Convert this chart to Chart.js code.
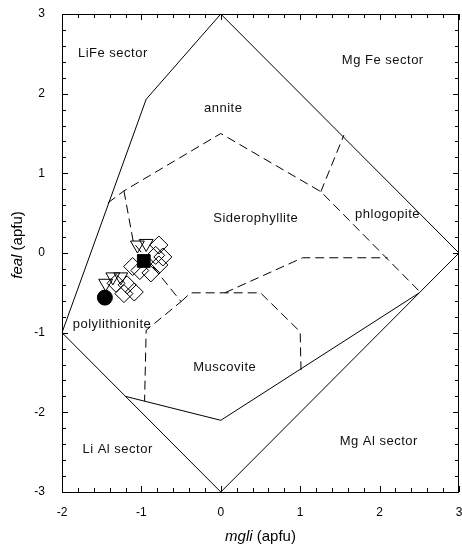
<!DOCTYPE html>
<html>
<head>
<meta charset="utf-8">
<script src="https://cdn.jsdelivr.net/npm/chart.js@4/dist/chart.umd.min.js"></script>
<style>
  html, body { margin: 0; padding: 0; background: #fff; }
  canvas { display: block; }
</style>
</head>
<body>
<canvas id="chart" width="462" height="552"></canvas>
<script>
// mgli / feal ranges
const xRange = [-2, 3];
const yRange = [-3, 3];

// solid field boundaries [mgli, feal]
const outerBoundary = [[0, 3], [-0.94, 1.93], [-2, -1], [0, -3], [3, 0], [0, 3]];
const lowerSolid = [[-1.2, -1.8], [0, -2.1], [2.5, -0.5]];

// dashed field boundaries
const upperDashed = [[-1.42, 0.63], [-1.22, 0.78], [0, 1.5], [1.26, 0.77], [2.52, -0.5]];
const annitePhlogopite = [[1.26, 0.77], [1.55, 1.48]];
const leftDashed = [[-1.22, 0.78], [-1.1, 0.13], [-0.5, -0.61], [-0.94, -0.97], [-0.96, -1.86]];
const muscoviteTop = [[-0.5, -0.61], [-0.38, -0.5], [0.5, -0.5], [1.0, -0.99], [1.01, -1.47]];
const sideroLower = [[0.05, -0.5], [1.03, -0.06], [2.1, -0.06]];

// samples
const diamonds = [[-0.78, 0.10], [-0.73, -0.05], [-0.82, -0.03], [-0.78, -0.15], [-0.88, -0.25],
                  [-1.11, -0.17], [-1.02, -0.22], [-1.18, -0.40], [-1.09, -0.49], [-1.22, -0.51], [-1.32, -0.38]];
const triangles = [[-1.05, 0.10], [-0.94, 0.12], [-1.36, -0.30], [-1.26, -0.30], [-1.45, -0.38]];
const squares = [[-0.97, -0.10]];
const circles = [[-1.46, -0.56]];

// field names and where they sit
const fieldNames = ['LiFe sector', 'Mg Fe sector', 'annite', 'Siderophyllite', 'phlogopite',
                    'polylithionite', 'Muscovite', 'Li Al sector', 'Mg Al sector'];
const fieldX = [-1.36, 2.04, 0.03, 0.44, 2.10, -1.37, 0.05, -1.30, 1.99];
const fieldY = [2.51, 2.42, 1.82, 0.44, 0.49, -0.90, -1.44, -2.46, -2.37];

const FONT = "'Liberation Sans', Arial, sans-serif";
const toPts = (arr) => arr.map(([x, y]) => ({ x, y }));

function lineSet(points, dashed) {
    return {
        data: toPts(points),
        showLine: true,
        borderColor: '#000',
        borderWidth: 1,
        borderDash: dashed ? [9, 5] : [],
        pointRadius: 0,
        tension: 0,
        order: 5
    };
}

function markerSet(points, style, radius, filled, rotation, order) {
    return {
        data: toPts(points),
        showLine: false,
        pointStyle: style,
        pointRadius: radius,
        pointRotation: rotation || 0,
        pointBorderColor: '#000',
        pointBorderWidth: 1,
        pointBackgroundColor: filled ? '#000' : 'rgba(255,255,255,0)',
        order: order
    };
}

const frameTicks = {
    id: 'frameTicks',
    afterDatasetsDraw(chart) {
        const { ctx, chartArea: a, scales: { x, y } } = chart;
        ctx.save();
        ctx.strokeStyle = '#000';
        ctx.lineWidth = 1;
        ctx.strokeRect(Math.round(a.left) + 0.5, Math.round(a.top) + 0.5,
                       Math.round(a.right - a.left) - 1, Math.round(a.bottom - a.top));
        ctx.beginPath();
        const nx = (x.max - x.min) * 5;
        for (let i = 0; i <= nx; i++) {
            const px = Math.round(x.getPixelForValue(x.min + i / 5)) + 0.5;
            const len = i % 5 === 0 ? 6 : 4;
            ctx.moveTo(px, a.bottom); ctx.lineTo(px, a.bottom - len);
            ctx.moveTo(px, a.top); ctx.lineTo(px, a.top + len);
        }
        const ny = (y.max - y.min) * 5;
        for (let i = 0; i <= ny; i++) {
            const py = Math.round(y.getPixelForValue(y.min + i / 5)) + 0.5;
            const len = i % 5 === 0 ? 6 : 4;
            ctx.moveTo(a.left, py); ctx.lineTo(a.left + len, py);
            ctx.moveTo(a.right, py); ctx.lineTo(a.right - len, py);
        }
        ctx.stroke();

        // field labels
        ctx.fillStyle = '#111';
        ctx.font = '13px ' + FONT;
        ctx.letterSpacing = '0.5px';
        ctx.textAlign = 'center';
        ctx.textBaseline = 'middle';
        fieldNames.forEach((name, i) => {
            ctx.fillText(name, x.getPixelForValue(fieldX[i]), y.getPixelForValue(fieldY[i]));
        });
        ctx.restore();
    }
};

// axis titles with italic variable names
function mixedTitle(ctx, italicPart, rest, cx, cy) {
    ctx.font = 'italic 15px ' + FONT;
    const w1 = ctx.measureText(italicPart).width;
    ctx.font = '15px ' + FONT;
    const w2 = ctx.measureText(rest).width;
    let start = cx - (w1 + w2) / 2;
    ctx.textAlign = 'left';
    ctx.textBaseline = 'middle';
    ctx.font = 'italic 15px ' + FONT;
    ctx.fillText(italicPart, start, cy);
    ctx.font = '15px ' + FONT;
    ctx.fillText(rest, start + w1, cy);
}

const axisTitles = {
    id: 'axisTitles',
    afterDraw(chart) {
        const { ctx, chartArea: a } = chart;
        ctx.save();
        ctx.fillStyle = '#000';
        mixedTitle(ctx, 'mgli', ' (apfu)', (a.left + a.right) / 2, 537);
        ctx.translate(18, 245);
        ctx.rotate(-Math.PI / 2);
        mixedTitle(ctx, 'feal', ' (apfu)', 0, 0);
        ctx.restore();
    }
};

new Chart(document.getElementById('chart'), {
    type: 'scatter',
    data: {
        datasets: [
            lineSet(outerBoundary, false),
            lineSet(lowerSolid, false),
            lineSet(upperDashed, true),
            lineSet(annitePhlogopite, true),
            lineSet(leftDashed, true),
            lineSet(muscoviteTop, true),
            lineSet(sideroLower, true),
            markerSet(diamonds, 'rectRot', 9, false, 0, 3),
            markerSet(triangles, 'triangle', 8, false, 180, 2),
            markerSet(squares, 'rect', 9, true, 0, 1),
            markerSet(circles, 'circle', 7.5, true, 0, 0)
        ]
    },
    options: {
        responsive: false,
        animation: false,
        devicePixelRatio: 1,
        layout: { autoPadding: false, padding: { left: 0, right: 3, top: 14, bottom: 0 } },
        plugins: {
            legend: { display: false },
            tooltip: { enabled: false }
        },
        scales: {
            x: {
                type: 'linear',
                min: xRange[0],
                max: xRange[1],
                grid: { display: false },
                border: { display: false },
                ticks: { stepSize: 1, color: '#000', padding: 5, font: { family: FONT, size: 12 } },
                afterFit: (s) => { s.height = 60; s.paddingLeft = 0; s.paddingRight = 0; }
            },
            y: {
                type: 'linear',
                min: yRange[0],
                max: yRange[1],
                grid: { display: false },
                border: { display: false },
                ticks: { stepSize: 1, color: '#000', padding: 9, font: { family: FONT, size: 12 } },
                afterFit: (s) => { s.width = 62; s.paddingTop = 0; s.paddingBottom = 0; }
            }
        }
    },
    plugins: [frameTicks, axisTitles]
});
</script>
</body>
</html>
